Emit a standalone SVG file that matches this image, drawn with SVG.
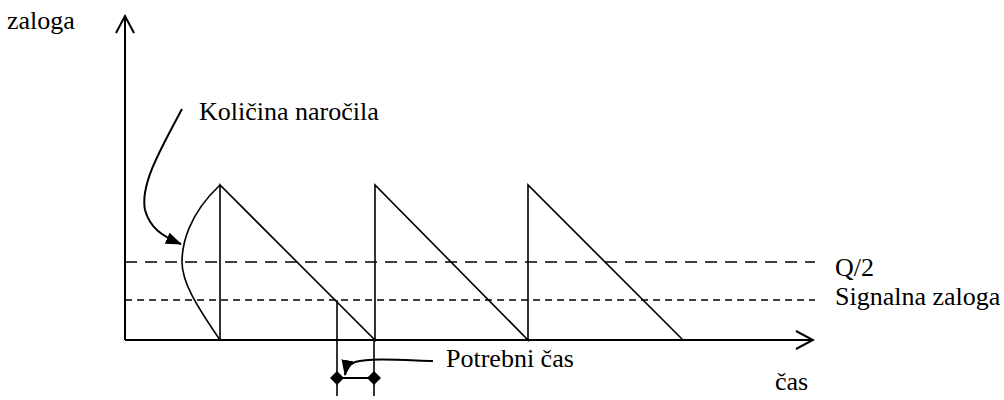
<svg xmlns="http://www.w3.org/2000/svg" width="1004" height="400" viewBox="0 0 1004 400">
<style>
.ln{stroke:#000;stroke-width:2;fill:none}
.tn{stroke:#000;stroke-width:1.6;fill:none}
.t{font-family:'Liberation Serif','Times New Roman','DejaVu Serif',serif;font-size:26px;fill:#000}
</style>
<defs>
<marker id="open" viewBox="0 0 20 20" refX="18" refY="10" markerWidth="20" markerHeight="20" markerUnits="userSpaceOnUse" orient="auto">
<path d="M1,1 L18,10 L1,19" fill="none" stroke="#000" stroke-width="2"/>
</marker>
<marker id="fill" viewBox="0 0 16 12" refX="15" refY="6" markerWidth="16" markerHeight="12" markerUnits="userSpaceOnUse" orient="auto">
<path d="M0,0 L16,6 L0,12 Z" fill="#000"/>
</marker>
<marker id="dia" viewBox="0 0 14 14" refX="7" refY="7" markerWidth="14" markerHeight="14" markerUnits="userSpaceOnUse">
<path d="M7,0 L14,7 L7,14 L0,7 Z" fill="#000"/>
</marker>
</defs>
<g id="axes">
<line class="ln" x1="125" y1="340" x2="125" y2="16" marker-end="url(#open)"/>
<line class="ln" x1="125" y1="340" x2="813" y2="340" marker-end="url(#open)"/>
</g>
<g id="levels">
<line class="tn" x1="125" y1="262" x2="815" y2="262" stroke-dasharray="12,8"/>
<line class="tn" x1="125" y1="300" x2="815" y2="300" stroke-dasharray="7,5"/>
</g>
<g id="sawtooth">
<path class="tn" d="M220,340 L220,185 L375,340 L375,185 L528,340 L528,185 L683,340"/>
<path class="tn" d="M220,185 C188,215 182,245 182,262 C182,282 196,305 220,340"/>
</g>
<g id="bracket">
<line class="tn" x1="337" y1="300" x2="337" y2="396"/>
<line class="tn" x1="374" y1="340" x2="374" y2="396"/>
<line class="ln" x1="337" y1="378" x2="374" y2="378" marker-start="url(#dia)" marker-end="url(#dia)"/>
</g>
<g id="connectors">
<path class="ln" d="M182,109 C160,150 140,185 145,210 C150,228 162,236 181,244" marker-end="url(#fill)"/>
<path class="ln" d="M433,361 C400,360 370,358 355,362 C348,365 346,369 345,375" marker-end="url(#fill)"/>
</g>
<g id="labels">
<text class="t" x="7" y="29">zaloga</text>
<text class="t" x="199" y="120">Količina naročila</text>
<text class="t" x="835" y="276">Q/2</text>
<text class="t" x="835" y="305">Signalna zaloga</text>
<text class="t" x="446" y="367">Potrebni čas</text>
<text class="t" x="775" y="390">čas</text>
</g>
</svg>
